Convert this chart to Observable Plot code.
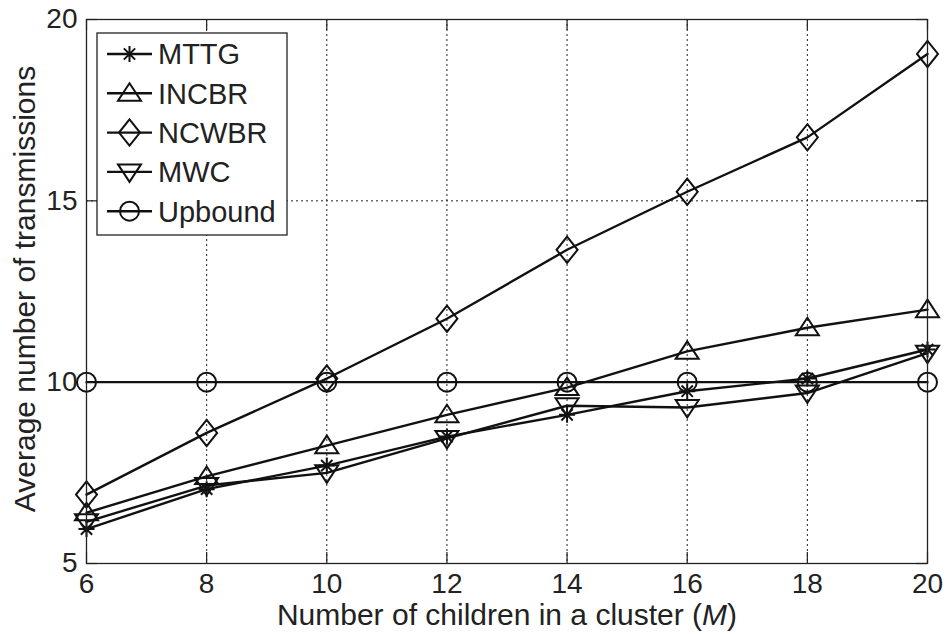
<!DOCTYPE html>
<html>
<head>
<meta charset="utf-8">
<script src="https://cdn.jsdelivr.net/npm/d3@7"></script>
<script src="https://cdn.jsdelivr.net/npm/@observablehq/plot@0.6"></script>
<style>
  html, body { margin: 0; padding: 0; background: #fff; }
  #chart { position: relative; width: 949px; height: 634px; }
</style>
</head>
<body>
<div id="chart"></div>
<script>
// ---- data ----
const M = [6, 8, 10, 12, 14, 16, 18, 20];
const seriesNames = ["MTTG", "INCBR", "NCWBR", "MWC", "Upbound"];
const MTTG    = [5.95, 7.05, 7.70, 8.50, 9.10, 9.75, 10.10, 10.90];
const INCBR   = [6.40, 7.40, 8.25, 9.10, 9.85, 10.85, 11.50, 12.00];
const NCWBR   = [6.90, 8.60, 10.10, 11.75, 13.65, 15.25, 16.75, 19.05];
const MWC     = [6.15, 7.15, 7.50, 8.45, 9.35, 9.30, 9.70, 10.80];
const Upbound = [10, 10, 10, 10, 10, 10, 10, 10];
const xTicks = [6, 8, 10, 12, 14, 16, 18, 20];
const yTicks = [5, 10, 15, 20];
const xLabel = "Number of children in a cluster (";
const xLabelVar = "M";
const yLabel = "Average number of transmissions";

const valuesByName = {MTTG, INCBR, NCWBR, MWC, Upbound};
const rows = seriesNames.flatMap(name => M.map((m, i) => ({series: name, m, v: valuesByName[name][i]})));

// ---- custom MATLAB-like marker symbols (size = r*r*PI) ----
const rOf = size => Math.sqrt(size / Math.PI);
const symAsterisk = {draw(ctx, size) {
  const r = rOf(size), d = r * Math.SQRT1_2;
  ctx.moveTo(-r, 0); ctx.lineTo(r, 0);
  ctx.moveTo(0, -r); ctx.lineTo(0, r);
  ctx.moveTo(-d, -d); ctx.lineTo(d, d);
  ctx.moveTo(-d, d); ctx.lineTo(d, -d);
}};
const symTriangle = {draw(ctx, size) {
  const r = rOf(size);
  ctx.moveTo(0, -r); ctx.lineTo(r * 1.15, r * 0.75); ctx.lineTo(-r * 1.15, r * 0.75); ctx.closePath();
}};
const symTriangleDown = {draw(ctx, size) {
  const r = rOf(size);
  ctx.moveTo(0, r); ctx.lineTo(r * 1.15, -r * 0.75); ctx.lineTo(-r * 1.15, -r * 0.75); ctx.closePath();
}};
const symDiamond = {draw(ctx, size) {
  const r = rOf(size);
  ctx.moveTo(0, -r * 1.25); ctx.lineTo(r, 0); ctx.lineTo(0, r * 1.25); ctx.lineTo(-r, 0); ctx.closePath();
}};
const symCircle = {draw(ctx, size) {
  const r = rOf(size);
  ctx.moveTo(r, 0); ctx.arc(0, 0, r, 0, 2 * Math.PI);
}};
const symbolOf = {MTTG: symAsterisk, INCBR: symTriangle, NCWBR: symDiamond, MWC: symTriangleDown, Upbound: symCircle};
const radiusOf = {MTTG: 8, INCBR: 10, NCWBR: 10.5, MWC: 10, Upbound: 9.5};

const ink = "#111";
const gridX = xTicks.slice(1, -1);
const gridY = yTicks.slice(1, -1);
const innerH = 634 - 19 - 71;
const innerW = 949 - 86 - 22;
const tickLen = 11;

const marks = [
  Plot.ruleX(gridX, {x: d => d, stroke: "#222", strokeWidth: 1, strokeDasharray: "2,3"}),
  Plot.ruleY(gridY, {y: d => d, stroke: "#222", strokeWidth: 1, strokeDasharray: "2,3"}),
  // inward tick marks on all four sides
  Plot.ruleX(xTicks, {x: d => d, insetTop: innerH - tickLen, stroke: "#222", strokeWidth: 1.2}),
  Plot.ruleX(xTicks, {x: d => d, insetBottom: innerH - tickLen, stroke: "#222", strokeWidth: 1.2}),
  Plot.ruleY(yTicks, {y: d => d, insetRight: innerW - tickLen, stroke: "#222", strokeWidth: 1.2}),
  Plot.ruleY(yTicks, {y: d => d, insetLeft: innerW - tickLen, stroke: "#222", strokeWidth: 1.2}),
  Plot.axisX({ticks: xTicks, tickSize: 0, tickPadding: 10, label: null, fontSize: 28, tickFormat: d => String(d)}),
  Plot.axisY({ticks: yTicks, tickSize: 0, tickPadding: 9, label: null, fontSize: 28, tickFormat: d => String(d)}),
  Plot.line(rows, {x: "m", y: "v", z: "series", stroke: ink, strokeWidth: 2.4}),
  ...seriesNames.map(name => Plot.dot(rows.filter(r => r.series === name), {
    x: "m", y: "v", symbol: symbolOf[name], r: radiusOf[name],
    stroke: ink, fill: "none", strokeWidth: 2
  })),
  Plot.frame({stroke: "#222", strokeWidth: 1.3})
];

const svg = Plot.plot({
  width: 949, height: 634,
  marginLeft: 86, marginRight: 22, marginTop: 19, marginBottom: 71,
  style: {fontFamily: "'Liberation Sans', Arial, Helvetica, sans-serif", color: "#222", background: "#fff", overflow: "visible"},
  x: {domain: [6, 20]},
  y: {domain: [5, 20]},
  marks
});
document.getElementById("chart").appendChild(svg);

// ---- axis titles ----
const s = d3.select(svg);
const xt = s.append("text")
  .attr("x", 507).attr("y", 625)
  .attr("text-anchor", "middle")
  .attr("font-size", 30).attr("fill", "#222")
  .attr("font-family", "'Liberation Sans', Arial, sans-serif");
xt.append("tspan").text(xLabel);
xt.append("tspan").attr("font-style", "italic").text(xLabelVar);
xt.append("tspan").text(")");

s.append("text")
  .attr("transform", "translate(35,289) rotate(-90)")
  .attr("text-anchor", "middle")
  .attr("font-size", 30).attr("fill", "#222")
  .attr("font-family", "'Liberation Sans', Arial, sans-serif")
  .text(yLabel);

// ---- legend ----
const lg = s.append("g").attr("font-family", "'Liberation Sans', Arial, sans-serif");
lg.append("rect").attr("x", 97).attr("y", 33).attr("width", 190).attr("height", 202)
  .attr("fill", "#fff").attr("stroke", "#222").attr("stroke-width", 1.3);
seriesNames.forEach((name, i) => {
  const cy = 54 + i * 39.3;
  lg.append("line").attr("x1", 107).attr("x2", 152).attr("y1", cy).attr("y2", cy)
    .attr("stroke", ink).attr("stroke-width", 2.4);
  const r = radiusOf[name];
  lg.append("path")
    .attr("transform", `translate(129.5,${cy})`)
    .attr("d", d3.symbol(symbolOf[name], r * r * Math.PI)())
    .attr("fill", "none").attr("stroke", ink).attr("stroke-width", 2);
  lg.append("text").attr("x", 158).attr("y", cy).attr("dy", "0.36em")
    .attr("text-anchor", "start")
    .attr("font-size", 29).attr("fill", "#222").text(name);
});
</script>
</body>
</html>
